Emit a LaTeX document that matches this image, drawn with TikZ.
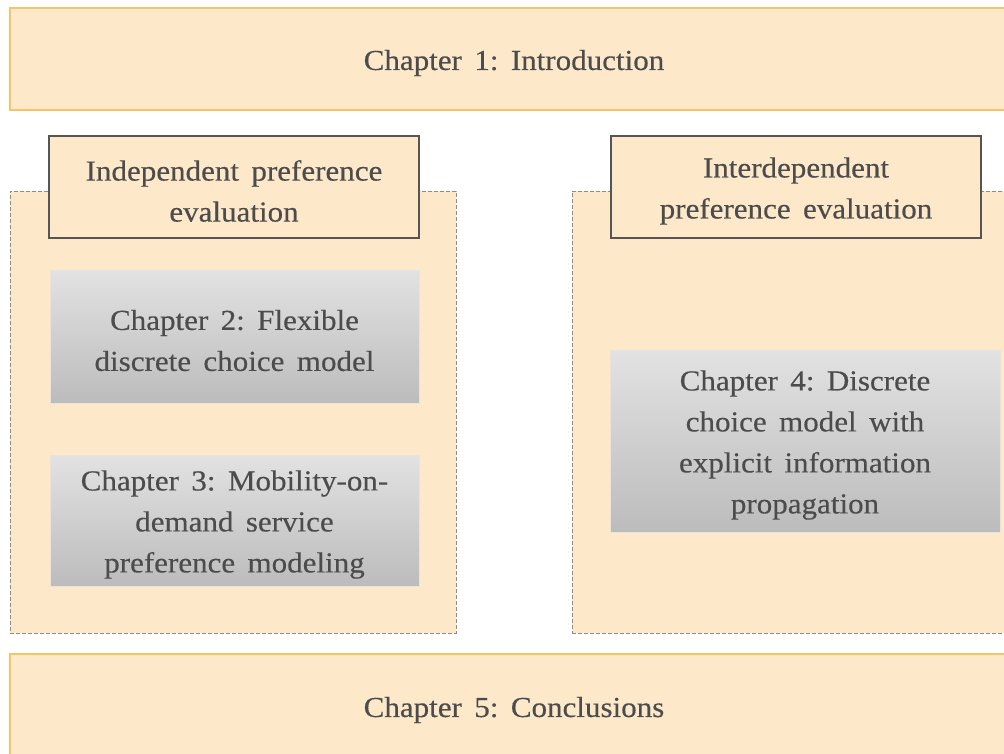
\documentclass[tikz,border=0pt]{standalone}
\usepackage{fontspec}
\setmainfont[FakeStretch=1.07,FakeBold=0.35,WordSpace={1.6,1,1}]{Liberation Serif}
\frenchspacing
\definecolor{beige}{HTML}{FDE9C9}
\definecolor{barorange}{HTML}{F2C56A}
\definecolor{dashgray}{HTML}{8C8C8C}
\definecolor{hdgray}{HTML}{555555}
\definecolor{txtgray}{HTML}{4C4C4C}
\definecolor{gtop}{HTML}{E2E2E2}
\definecolor{gbot}{HTML}{BCBCBC}
\begin{document}
\begin{tikzpicture}[x=1pt,y=-1pt,
  every node/.style={inner sep=0pt},
  txt/.style={font=\fontsize{29}{41}\selectfont, text=txtgray, align=center, yshift=-4pt},
  chapbar/.style={draw=barorange, line width=1.3pt, fill=beige, minimum width=1008pt, minimum height=#1},
  groupbox/.style={draw=dashgray, line width=0.8pt, dash pattern=on 4pt off 2pt, fill=beige},
  header/.style={draw=hdgray, line width=2pt, fill=beige, minimum width=370pt, minimum height=102pt},
  chap/.style={top color=gtop, bottom color=gbot, draw=gtop!80!beige, line width=0.6pt}
]
\useasboundingbox (0,0) rectangle (1004,753);
\fill[white] (0,0) rectangle (1004,753);
\clip (0,0) rectangle (1004,753);
% chapter bars
\node[chapbar=102pt] (c1) at (514,59) {};
\node[chapbar=104pt] (c5) at (514,706) {};
% groups
\node[groupbox, minimum width=446pt, minimum height=442pt] (gl) at (233,412) {};
\node[groupbox, minimum width=468pt, minimum height=442pt] (gr) at (806,412) {};
% headers
\node[header] (hl) at (234,187) {};
\node[header] (hr) at (796,187) {};
% chapters
\node[chap, minimum width=369pt, minimum height=133pt] (c2) at (234.5,336.5) {};
\node[chap, minimum width=369pt, minimum height=131pt] (c3) at (234.5,520.5) {};
\node[chap, minimum width=390pt, minimum height=182pt] (c4) at (805,441) {};
% texts
\node[txt] (t1) at (c1.center) {Chapter 1: Introduction};
\node[txt] (t5) at (c5.center) {Chapter 5: Conclusions};
\node[txt] (thl) at (hl.center) {Independent preference\\evaluation};
\node[txt] (thr) at (hr.center) {Interdependent\\preference evaluation};
\node[txt] (t2) at (c2.center) {Chapter 2: Flexible\\discrete choice model};
\node[txt] (t3) at (c3.center) {Chapter 3: Mobility-on-\\demand service\\preference modeling};
\node[txt] (t4) at (c4.center) {Chapter 4: Discrete\\choice model with\\explicit information\\propagation};
\end{tikzpicture}
\end{document}
